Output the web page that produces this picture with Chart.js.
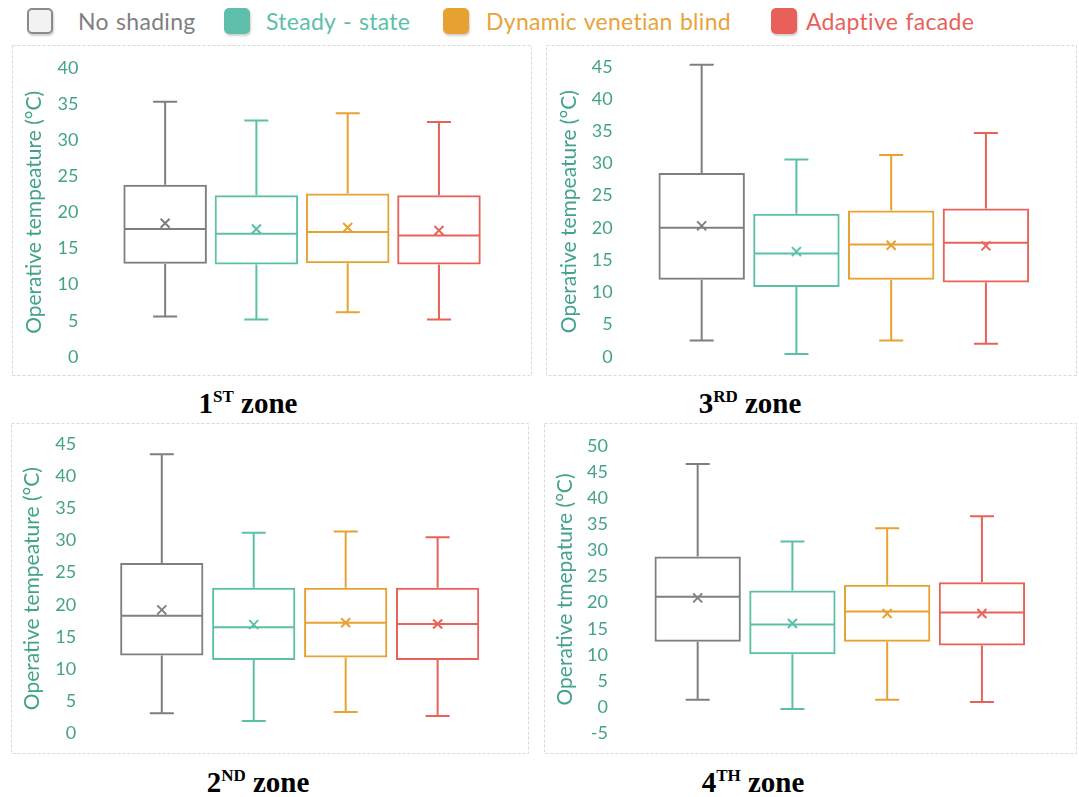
<!DOCTYPE html>
<html>
<head>
<meta charset="utf-8">
<script src="https://cdn.jsdelivr.net/npm/chart.js@4.4.1/dist/chart.umd.min.js"></script>
<style>
  html, body { margin: 0; padding: 0; background: #ffffff; }
  body { width: 1079px; height: 797px; position: relative; overflow: hidden; font-family: Lato, "Open Sans", sans-serif; }
  .panel { position: absolute; }
  .swatch { position: absolute; top: 8px; width: 26px; height: 26px; border-radius: 5px; box-sizing: border-box; box-shadow: 1px 2px 2px rgba(0,0,0,0.18); }
  .legend-text { position: absolute; top: 6px; line-height: 30px; font-size: 23px; letter-spacing: 0.3px; word-spacing: 1px; white-space: nowrap; }
  .caption { position: absolute; width: 300px; text-align: center; font-family: "Liberation Serif", "Times New Roman", serif; font-weight: bold; font-size: 29px; color: #000; line-height: 30px; }
  .caption sup { font-size: 17px; vertical-align: 0; position: relative; top: -11px; }
</style>
</head>
<body>

<div class="swatch" style="left:27px; background:#f2f2f2; border:2px solid #8a8a8a;"></div>
<div class="legend-text" style="left:78px; color:#808080;">No shading</div>
<div class="swatch" style="left:224px; background:#5dbfa9;"></div>
<div class="legend-text" style="left:266px; color:#5cbfa8;">Steady - state</div>
<div class="swatch" style="left:443px; background:#e6a230;"></div>
<div class="legend-text" style="left:486px; color:#e8a33b;">Dynamic venetian blind</div>
<div class="swatch" style="left:771px; background:#e8605a;"></div>
<div class="legend-text" style="left:806px; color:#e8625a;">Adaptive facade</div>

<canvas id="zone1" class="panel"></canvas>
<canvas id="zone3" class="panel"></canvas>
<canvas id="zone2" class="panel"></canvas>
<canvas id="zone4" class="panel"></canvas>

<div class="caption" style="left:98px; top:388px;">1<sup>ST</sup> zone</div>
<div class="caption" style="left:600px; top:388px;">3<sup>RD</sup> zone</div>
<div class="caption" style="left:108px; top:767px;">2<sup>ND</sup> zone</div>
<div class="caption" style="left:603px; top:767px;">4<sup>TH</sup> zone</div>

<script>
// Shading strategies compared in every zone
const categories = ['No shading', 'Steady - state', 'Dynamic venetian blind', 'Adaptive facade'];
const boxColors = ['#7f7f7f', '#5cc0a9', '#e6a232', '#e8625a'];

// Operative temperature statistics (°C), one value per strategy
const zone1Min    = [5.6, 5.2, 6.2, 5.2];
const zone1Q1     = [12.9, 12.8, 12.95, 12.8];
const zone1Median = [17.7, 17.05, 17.3, 16.8];
const zone1Q3     = [23.8, 22.35, 22.6, 22.35];
const zone1Max    = [35.3, 32.7, 33.7, 32.5];
const zone1Mean   = [18.5, 17.7, 17.9, 17.5];

const zone2Min    = [3.1, 1.9, 3.3, 2.7];
const zone2Q1     = [12.1, 11.4, 11.8, 11.4];
const zone2Median = [18.3, 16.5, 17.2, 17.0];
const zone2Q3     = [26.5, 22.65, 22.65, 22.65];
const zone2Max    = [43.4, 31.2, 31.4, 30.5];
const zone2Mean   = [19.2, 16.9, 17.2, 17.0];

const zone3Min    = [2.5, 0.4, 2.5, 2.0];
const zone3Q1     = [11.95, 10.8, 11.95, 11.5];
const zone3Median = [20.0, 16.0, 17.4, 17.7];
const zone3Q3     = [28.5, 22.2, 22.7, 23.0];
const zone3Max    = [45.3, 30.6, 31.3, 34.7];
const zone3Mean   = [20.3, 16.3, 17.3, 17.2];

const zone4Min    = [1.4, -0.35, 1.4, 1.0];
const zone4Q1     = [12.5, 10.1, 12.5, 11.8];
const zone4Median = [21.1, 15.8, 18.3, 18.1];
const zone4Q3     = [28.8, 22.3, 23.4, 23.9];
const zone4Max    = [46.5, 31.7, 34.2, 36.5];
const zone4Mean   = [20.9, 16.0, 17.9, 17.9];

// Value axis range per zone: [min, max, step]
const zone1Axis = [0, 40, 5];
const zone2Axis = [0, 45, 5];
const zone3Axis = [0, 45, 5];
const zone4Axis = [-5, 50, 5];

const axisTitleZones123 = 'Operative tempeature (°C)';
const axisTitleZone4 = 'Operative tmepature (°C)';

const tickColor = '#43a38a';

// Whiskers, median line, mean cross and dashed frame
const boxPlotExtras = {
  id: 'boxPlotExtras',
  beforeDraw(chart) {
    const ctx = chart.ctx;
    ctx.save();
    ctx.strokeStyle = '#d9d9d9';
    ctx.lineWidth = 1;
    ctx.setLineDash([3, 2]);
    ctx.strokeRect(0.5, 0.5, chart.width - 1, chart.height - 1);
    ctx.restore();
  },
  afterDatasetsDraw(chart) {
    const stats = chart.options.plugins.boxPlotExtras.stats;
    const ctx = chart.ctx;
    const x = chart.scales.x, y = chart.scales.y;
    const meta = chart.getDatasetMeta(0);
    ctx.save();
    ctx.lineWidth = 2;
    ctx.lineCap = 'butt';
    categories.forEach((c, i) => {
      const bar = meta.data[i];
      const cx = x.getPixelForValue(i);
      const half = bar.width / 2;
      const capHalf = 12;
      ctx.strokeStyle = boxColors[i];
      const yMin = y.getPixelForValue(stats.min[i]);
      const yQ1 = y.getPixelForValue(stats.q1[i]);
      const yMed = y.getPixelForValue(stats.median[i]);
      const yQ3 = y.getPixelForValue(stats.q3[i]);
      const yMax = y.getPixelForValue(stats.max[i]);
      const yMean = y.getPixelForValue(stats.mean[i]);
      ctx.beginPath();
      // upper whisker + cap
      ctx.moveTo(cx, yQ3); ctx.lineTo(cx, yMax);
      ctx.moveTo(cx - capHalf, yMax); ctx.lineTo(cx + capHalf, yMax);
      // lower whisker + cap
      ctx.moveTo(cx, yQ1); ctx.lineTo(cx, yMin);
      ctx.moveTo(cx - capHalf, yMin); ctx.lineTo(cx + capHalf, yMin);
      // median
      ctx.moveTo(cx - half + 1, yMed); ctx.lineTo(cx + half - 1, yMed);
      // mean cross
      const m = 4.5;
      ctx.moveTo(cx - m, yMean - m); ctx.lineTo(cx + m, yMean + m);
      ctx.moveTo(cx - m, yMean + m); ctx.lineTo(cx + m, yMean - m);
      ctx.stroke();
    });
    ctx.restore();
  }
};

function makeZoneChart(id, frame, area, ticksPad, titleCenter, axis, title, barPct, stats) {
  const canvas = document.getElementById(id);
  canvas.style.left = frame.left + 'px';
  canvas.style.top = frame.top + 'px';
  canvas.style.width = frame.width + 'px';
  canvas.style.height = frame.height + 'px';
  canvas.width = frame.width;
  canvas.height = frame.height;
  const titleSize = 21;
  return new Chart(canvas, {
    type: 'bar',
    data: {
      labels: categories,
      datasets: [{
        data: stats.q1.map((q, i) => [q, stats.q3[i]]),
        backgroundColor: 'rgba(255,255,255,0)',
        borderColor: boxColors,
        borderWidth: 2,
        borderSkipped: false,
        barPercentage: barPct,
        categoryPercentage: 1
      }]
    },
    options: {
      responsive: false,
      animation: false,
      devicePixelRatio: 1,
      layout: { padding: { left: 0, right: frame.width - area.right, top: area.top, bottom: frame.height - area.bottom } },
      plugins: {
        legend: { display: false },
        tooltip: { enabled: false },
        boxPlotExtras: { stats }
      },
      scales: {
        x: { display: false },
        y: {
          min: axis[0], max: axis[1],
          afterFit(scale) {
            scale.width = area.left;
            // keep the wide label gap from shrinking the plot vertically
            scale.paddingTop = 0;
            scale.paddingBottom = 0;
          },
          ticks: { stepSize: axis[2], autoSkip: false, padding: ticksPad, color: tickColor, font: { family: 'Lato', size: 18 } },
          grid: { display: false, drawTicks: false },
          border: { display: false },
          title: {
            display: true, text: title, color: tickColor,
            font: { family: 'Lato', size: titleSize, lineHeight: 1.2 },
            padding: { top: titleCenter - titleSize * 0.6, bottom: 0 }
          }
        }
      }
    },
    plugins: [boxPlotExtras]
  });
}

makeZoneChart('zone1', { left: 12, top: 45, width: 520, height: 331 },
  { left: 107.5, right: 472.6, top: 22.7, bottom: 312 }, 41, 22.6, zone1Axis, axisTitleZones123, 0.915,
  { min: zone1Min, q1: zone1Q1, median: zone1Median, q3: zone1Q3, max: zone1Max, mean: zone1Mean });

makeZoneChart('zone3', { left: 546, top: 45, width: 531, height: 331 },
  { left: 108.3, right: 487.3, top: 21.7, bottom: 311.7 }, 41.7, 23, zone3Axis, axisTitleZones123, 0.912,
  { min: zone3Min, q1: zone3Q1, median: zone3Median, q3: zone3Q3, max: zone3Max, mean: zone3Mean });

makeZoneChart('zone2', { left: 11, top: 423, width: 518, height: 331 },
  { left: 104.8, right: 472.6, top: 21, bottom: 310.3 }, 39.6, 21, zone2Axis, axisTitleZones123, 0.905,
  { min: zone2Min, q1: zone2Q1, median: zone2Median, q3: zone2Q3, max: zone2Max, mean: zone2Mean });

makeZoneChart('zone4', { left: 544, top: 423, width: 533, height: 331 },
  { left: 106.3, right: 485.3, top: 22.7, bottom: 310.3 }, 42.3, 21, zone4Axis, axisTitleZone4, 0.911,
  { min: zone4Min, q1: zone4Q1, median: zone4Median, q3: zone4Q3, max: zone4Max, mean: zone4Mean });
</script>
</body>
</html>
